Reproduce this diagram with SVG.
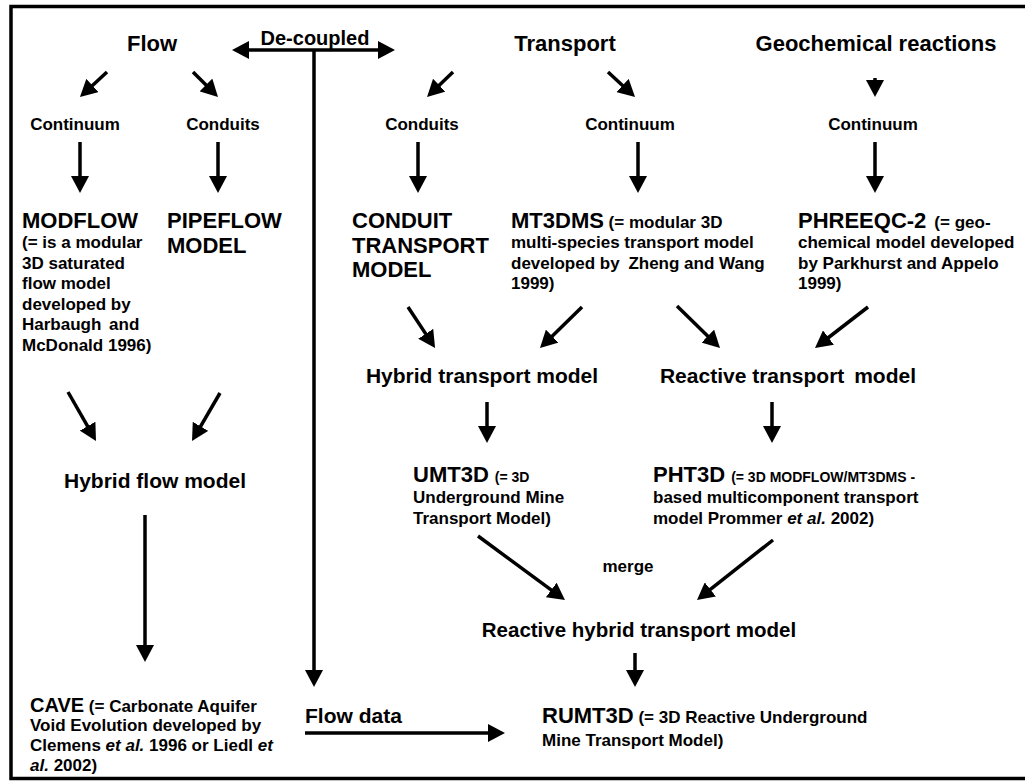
<svg xmlns="http://www.w3.org/2000/svg" width="1025" height="781" viewBox="0 0 1025 781">
<style>
text{font-family:"Liberation Sans",Arial,sans-serif;font-weight:bold;fill:#000}
.h{font-size:22px}
.m{font-size:21px}
.s{font-size:17px}
.t{font-size:17px}
.p{font-size:14px}
.b{font-size:22px}
.i{font-style:italic}
.c line{stroke:#000;stroke-width:3.5;marker-end:url(#ah)}
</style>
<defs>
<marker id="ah" markerUnits="userSpaceOnUse" markerWidth="17" markerHeight="18" viewBox="0 0 17 18" refX="4" refY="9" orient="auto-start-reverse"><path d="M0,0 L17,9 L0,18 z" fill="#000"/></marker>
</defs>
<rect x="11" y="6.5" width="1030" height="772" fill="#fff" stroke="#000" stroke-width="3.5"/>

<g id="flow"><text class="h" x="152" y="51" text-anchor="middle">Flow</text></g>
<g id="decoupled"><text x="315" y="45" text-anchor="middle" style="font-size:20px">De-coupled</text></g>
<g id="transport"><text class="h" x="565" y="51" text-anchor="middle">Transport</text></g>
<g id="geochem"><text class="h" x="876" y="51" text-anchor="middle">Geochemical reactions</text></g>

<g id="flow-continuum"><text class="s" x="75" y="130" text-anchor="middle">Continuum</text></g>
<g id="flow-conduits"><text class="s" x="223" y="130" text-anchor="middle">Conduits</text></g>
<g id="transport-conduits"><text class="s" x="422" y="130" text-anchor="middle">Conduits</text></g>
<g id="transport-continuum"><text class="s" x="630" y="130" text-anchor="middle">Continuum</text></g>
<g id="geo-continuum"><text class="s" x="873" y="130" text-anchor="middle">Continuum</text></g>

<g id="modflow">
<text class="b" x="22" y="228">MODFLOW</text>
<text class="t" x="22" y="248">(= is a modular</text>
<text class="t" x="22" y="268.6">3D saturated</text>
<text class="t" x="22" y="289.2">flow model</text>
<text class="t" x="22" y="309.8">developed by</text>
<text class="t" x="22" y="330.4">Harbaugh <tspan dx="3">and</tspan></text>
<text class="t" x="22" y="351">McDonald 1996)</text>
</g>
<g id="pipeflow">
<text class="b" x="167" y="228">PIPEFLOW</text>
<text class="b" x="167" y="253">MODEL</text>
</g>
<g id="conduit-transport">
<text class="b" x="352" y="228">CONDUIT</text>
<text class="b" x="352" y="252.5">TRANSPORT</text>
<text class="b" x="352" y="277">MODEL</text>
</g>
<g id="mt3dms">
<text x="511" y="228"><tspan class="b">MT3DMS</tspan><tspan class="t"> (= modular 3D</tspan></text>
<text class="t" x="511" y="248">multi-species transport model</text>
<text class="t" x="511" y="268.6">developed by <tspan dx="4">Zheng and Wang</tspan></text>
<text class="t" x="511" y="289.2">1999)</text>
</g>
<g id="phreeqc">
<text x="798" y="228"><tspan class="b">PHREEQC-2</tspan><tspan class="t" dx="8">(= geo-</tspan></text>
<text class="t" x="798" y="248">chemical model developed</text>
<text class="t" x="798" y="268.6">by Parkhurst and Appelo</text>
<text class="t" x="798" y="289.2">1999)</text>
</g>

<g id="hybrid-transport"><text class="m" x="482" y="383" text-anchor="middle">Hybrid transport model</text></g>
<g id="reactive-transport"><text class="m" x="788" y="383" text-anchor="middle">Reactive transport <tspan dx="4">model</tspan></text></g>
<g id="hybrid-flow"><text class="m" x="155" y="488" text-anchor="middle">Hybrid flow model</text></g>

<g id="umt3d">
<text x="413" y="482"><tspan class="b">UMT3D</tspan><tspan class="p" dx="6">(= 3D</tspan></text>
<text class="t" x="413" y="503">Underground Mine</text>
<text class="t" x="413" y="524">Transport Model)</text>
</g>
<g id="pht3d">
<text x="653" y="482"><tspan class="b">PHT3D</tspan><tspan class="p" dx="6">(= 3D MODFLOW/MT3DMS -</tspan></text>
<text class="t" x="653" y="503">based multicomponent transport</text>
<text class="t" x="653" y="524">model Prommer <tspan class="i">et al.</tspan> 2002)</text>
</g>
<g id="merge"><text class="t" x="628" y="572" text-anchor="middle">merge</text></g>
<g id="reactive-hybrid"><text x="639" y="637" text-anchor="middle" style="font-size:20.5px">Reactive hybrid transport model</text></g>
<g id="rumt3d">
<text x="542" y="723"><tspan class="b">RUMT3D</tspan><tspan class="t"> (= 3D Reactive Underground</tspan></text>
<text class="t" x="542" y="746">Mine Transport Model)</text>
</g>
<g id="cave">
<text x="30" y="712"><tspan style="font-size:20px">CAVE</tspan><tspan class="t"> (= Carbonate Aquifer</tspan></text>
<text class="t" x="30" y="731">Void Evolution developed by</text>
<text class="t" x="30" y="751">Clemens <tspan class="i">et al.</tspan> 1996 or Liedl <tspan class="i">et</tspan></text>
<text class="t" x="30" y="771"><tspan class="i">al.</tspan> 2002)</text>
</g>
<g id="flowdata-label"><text x="305" y="723" style="font-size:21px">Flow data</text></g>

<g id="connectors" class="c">
<line x1="245" y1="50" x2="382" y2="50" style="marker-start:url(#ah)"/>
<line x1="314" y1="50" x2="314" y2="674"/>
<line x1="107" y1="72" x2="89.5" y2="88.2"/>
<line x1="193" y1="72" x2="208.8" y2="87.8"/>
<line x1="453" y1="72" x2="436.4" y2="88"/>
<line x1="608" y1="72" x2="625.5" y2="88.2"/>
<line x1="875" y1="78" x2="875" y2="84"/>
<line x1="80" y1="142" x2="80" y2="180"/>
<line x1="218" y1="142" x2="218" y2="180"/>
<line x1="418" y1="142" x2="418" y2="180"/>
<line x1="638" y1="142" x2="638" y2="180"/>
<line x1="875" y1="142" x2="875" y2="180"/>
<line x1="408" y1="307" x2="427.9" y2="337.1"/>
<line x1="582" y1="307" x2="549.3" y2="338.9"/>
<line x1="677" y1="306" x2="710.7" y2="338.9"/>
<line x1="868" y1="307" x2="825.3" y2="340"/>
<line x1="68" y1="392" x2="89.55" y2="429.7"/>
<line x1="220" y1="393" x2="198.55" y2="429.8"/>
<line x1="487" y1="402" x2="487" y2="430"/>
<line x1="772" y1="402" x2="772" y2="430"/>
<line x1="145" y1="515" x2="145" y2="649"/>
<line x1="478" y1="536" x2="554.5" y2="592.3"/>
<line x1="773" y1="540" x2="707.2" y2="591.9"/>
<line x1="635" y1="653" x2="635" y2="674"/>
<line x1="305" y1="733" x2="492" y2="733"/>
</g>
</svg>
